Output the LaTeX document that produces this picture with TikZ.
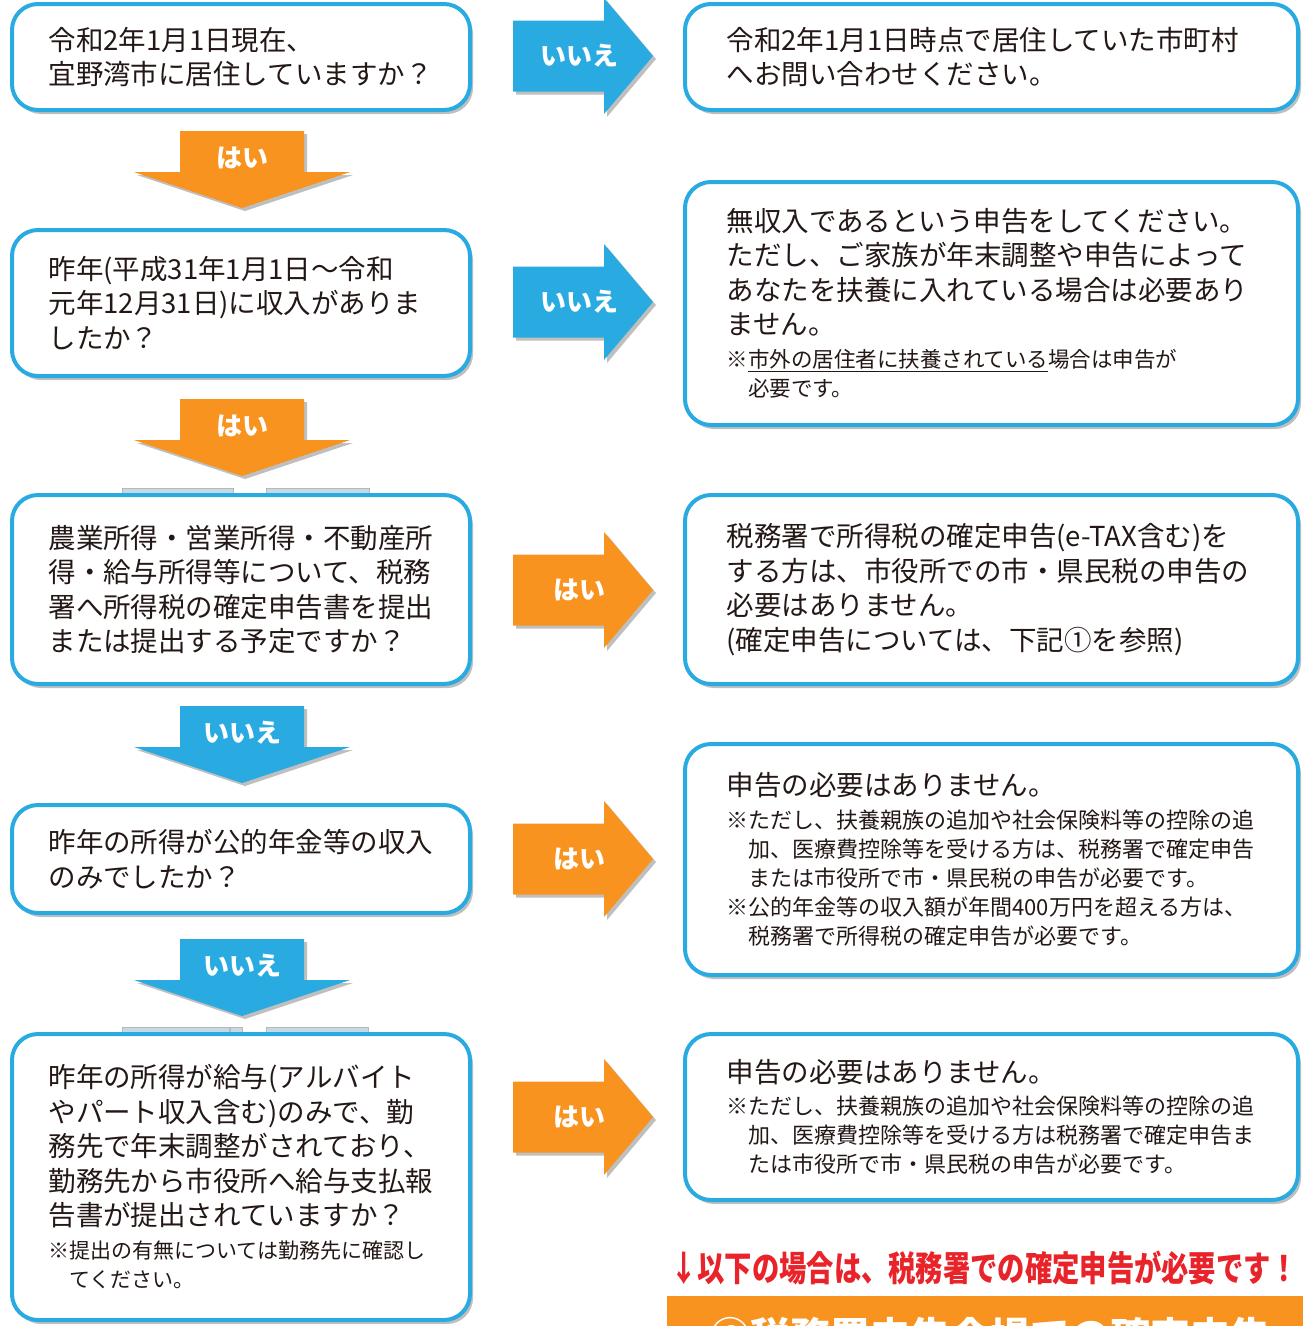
\documentclass[tikz,border=0pt]{standalone}
\usepackage{fontspec}
\setmainfont{Noto Sans CJK JP}
\usepackage{graphicx}
\usepackage{tikz}
\usetikzlibrary{shadows}

\definecolor{qblue}{HTML}{29ABE2}
\definecolor{qorange}{HTML}{F7931E}
\definecolor{qred}{HTML}{E8232A}
\definecolor{qtext}{HTML}{231815}

\tikzset{
  qbox/.style={draw=qblue, line width=4pt, rounded corners=26pt, fill=white,
    minimum width=458pt, text width=385pt, align=left, inner sep=0pt,
    text=qtext, font=\fontsize{27.5}{34.5}\selectfont,
    drop shadow={shadow xshift=3pt, shadow yshift=-4pt, opacity=0.25, fill=black}},
  abox/.style={qbox, minimum width=613pt, text width=530pt},
  mixed/.style={font=\fontsize{27.5}{29}\selectfont},
  albl/.style={text=white, inner sep=0pt, font=\bfseries\fontsize{26}{26}\selectfont},
  ashadow/.style={drop shadow={shadow xshift=3pt, shadow yshift=-3pt, opacity=0.25, fill=black}},
  bar/.style={draw=gray!55, line width=0.8pt, fill=qblue!45!gray!35}
}

\begin{document}
\begin{tikzpicture}[x=1pt,y=-1pt]
\useasboundingbox (0,0) rectangle (1303,1326);
\clip (0,0) rectangle (1303,1326);

% small bars over the boxes
\draw[bar] (122,488) rectangle (233,494);
\draw[bar] (266,488) rectangle (369,494);
\draw[bar] (122,1027) rectangle (229,1033);
\draw[bar] (230,1027) rectangle (242,1033);
\draw[bar] (266,1027) rectangle (368,1033);

% questions
\node[qbox, minimum height=106pt] (q1) at (241,57)
  {令和2年1月1日現在、\\宜野湾市に居住していますか？};
\node[qbox, minimum height=146pt] (q2) at (241,303)
  {昨年(平成31年1月1日～令和\\元年12月31日)に収入がありま\\したか？};
\node[qbox, minimum height=189pt] (q3) at (241,589.5)
  {農業所得・営業所得・不動産所\\得・給与所得等について、税務\\署へ所得税の確定申告書を提出\\または提出する予定ですか？};
\node[qbox, minimum height=108pt] (q4) at (241,859)
  {昨年の所得が公的年金等の収入\\のみでしたか？};
\node[qbox, mixed, minimum height=286pt] (q5) at (241,1177)
  {昨年の所得が給与(アルバイト\\[5.5pt]
   やパート収入含む)のみで、勤\\[5.5pt]
   務先で年末調整がされており、\\[5.5pt]
   勤務先から市役所へ給与支払報\\[5.5pt]
   告書が提出されていますか？\\[4pt]
   \fontsize{21}{29}\selectfont ※提出の有無については勤務先に確認し\\
   　てください。};

% answers
\node[abox, minimum height=106pt] (a1) at (991.5,57)
  {令和2年1月1日時点で居住していた市町村\\へお問い合わせください。};
\node[abox, mixed, minimum height=243pt] (a2) at (991.5,303.5)
  {無収入であるという申告をしてください。\\[5.5pt]
   ただし、ご家族が年末調整や申告によって\\[5.5pt]
   あなたを扶養に入れている場合は必要あり\\[5.5pt]
   ません。\\[4pt]
   \fontsize{21.5}{29}\selectfont ※\underline{市外の居住者に扶養されている}場合は申告が\\
   　必要です。};
\node[abox, minimum height=189pt] (a3) at (991.5,589.5)
  {税務署で所得税の確定申告(e-TAX含む)を\\する方は、市役所での市・県民税の申告の\\必要はありません。\\(確定申告については、下記①を参照)};
\node[abox, mixed, minimum height=231pt] (a4) at (991.5,859.5)
  {申告の必要はありません。\\[4pt]
   \fontsize{22}{29}\selectfont ※ただし、扶養親族の追加や社会保険料等の控除の追\\
   　加、医療費控除等を受ける方は、税務署で確定申告\\
   　または市役所で市・県民税の申告が必要です。\\
   ※公的年金等の収入額が年間400万円を超える方は、\\
   　税務署で所得税の確定申告が必要です。};
\node[abox, mixed, minimum height=166pt] (a5) at (991.5,1117)
  {申告の必要はありません。\\[3pt]
   \fontsize{22}{29}\selectfont ※ただし、扶養親族の追加や社会保険料等の控除の追\\
   　加、医療費控除等を受ける方は税務署で確定申告ま\\
   　たは市役所で市・県民税の申告が必要です。};

% arrows to the right
\foreach \yy/\cl/\lbl [count=\i] in {56/qblue/いいえ, 302/qblue/いいえ, 590/qorange/はい, 859/qorange/はい, 1117/qorange/はい}
{
  \fill[\cl, ashadow] (513,\yy-35.5) -- (604,\yy-35.5) -- (604,\yy-58) -- (653,\yy)
    -- (604,\yy+58) -- (604,\yy+35.5) -- (513,\yy+35.5) -- cycle;
  \node[albl] (r\i) at (579,\yy) {\lbl};
}

% arrows downwards
\foreach \yy/\cl/\lbl [count=\i] in {131/qorange/はい, 399/qorange/はい, 706/qblue/いいえ, 939/qblue/いいえ}
{
  \fill[\cl, ashadow] (180,\yy) -- (304,\yy) -- (304,\yy+41) -- (350,\yy+41)
    -- (242,\yy+77) -- (134,\yy+41) -- (180,\yy+41) -- cycle;
  \node[albl] (d\i) at (242,\yy+27) {\lbl};
}

% notice at the bottom
\node[anchor=west, inner sep=0pt, text=qred, font=\bfseries\fontsize{35}{35}\selectfont] (need) at (670,1268)
  {\scalebox{0.78}[1]{↓以下の場合は、税務署での確定申告が必要です！}};
\fill[qorange] (667,1296) rectangle (1310,1400);
\node[anchor=west, inner sep=0pt, text=white, font=\bfseries\fontsize{40}{40}\selectfont] (kaijo) at (710,1336)
  {①税務署申告会場での確定申告};
\end{tikzpicture}
\end{document}
